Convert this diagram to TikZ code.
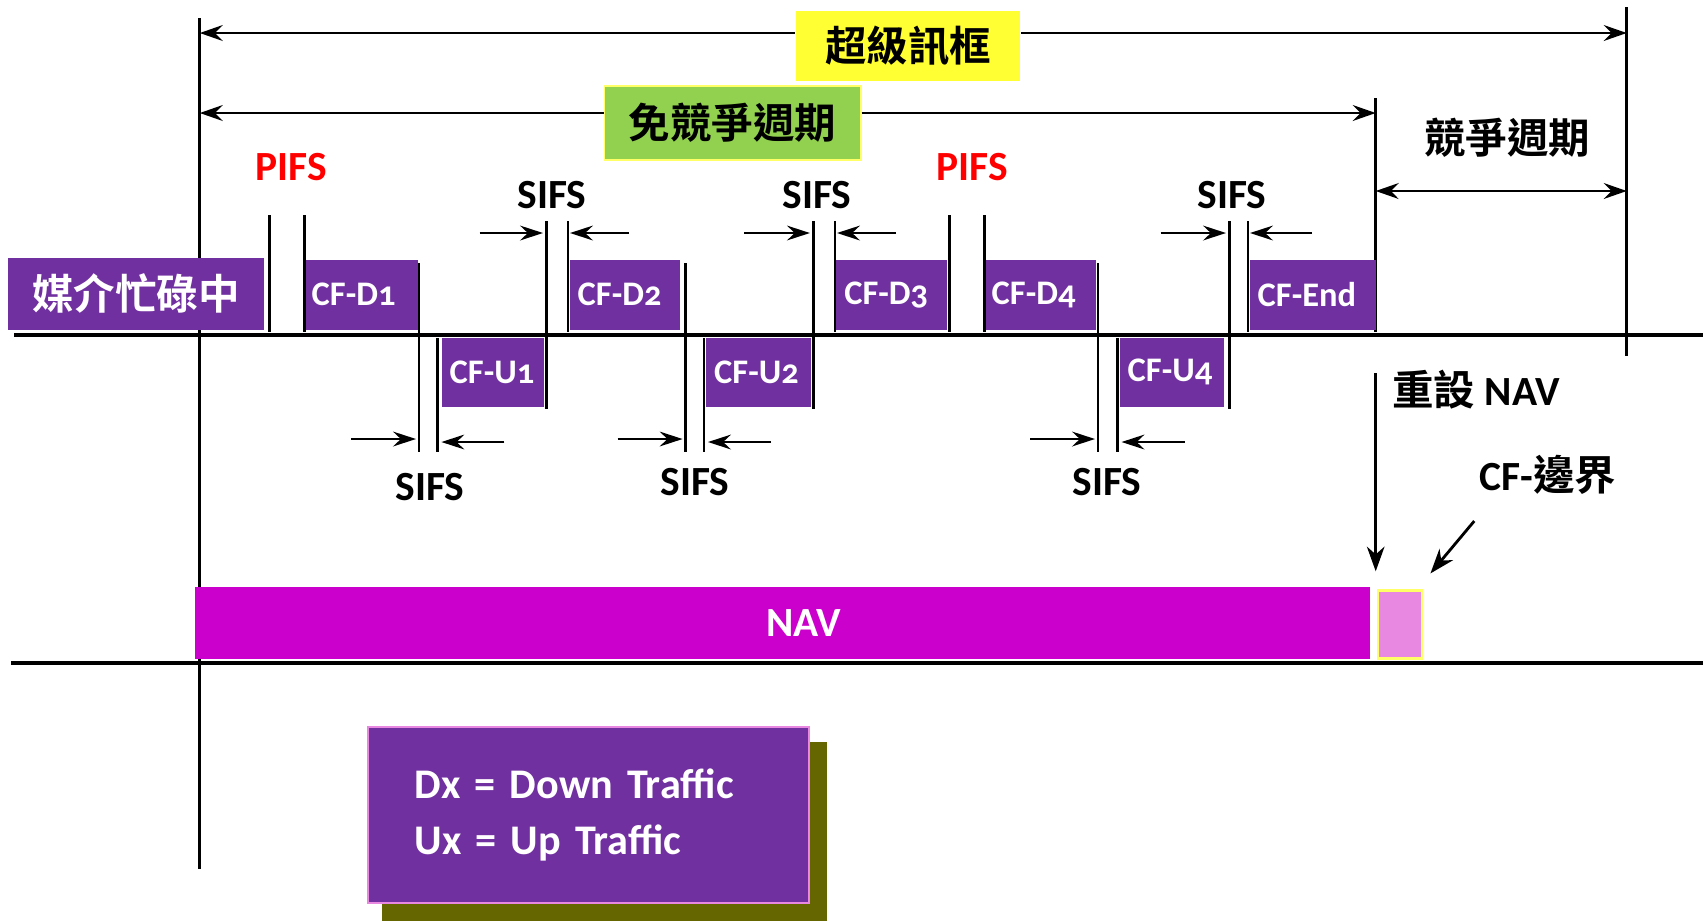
\documentclass[tikz,border=0pt]{standalone}
\usepackage{fontspec}
\setmainfont{Carlito}
\newfontfamily\framefont{Carlito}[Numbers=OldStyle]
\newfontfamily\cjk{Noto Sans CJK TC}[BoldFont={Noto Sans CJK TC Bold}]
\usepackage{tikz}
\usetikzlibrary{arrows.meta, calc, positioning}

\definecolor{framepurple}{HTML}{7030A0}
\definecolor{navmagenta}{HTML}{CC00CC}
\definecolor{boundpink}{HTML}{E888E0}
\definecolor{lemon}{HTML}{FFFF33}
\definecolor{leaf}{HTML}{92D050}
\definecolor{paleyellow}{HTML}{FFFF66}
\definecolor{shadowolive}{HTML}{666600}

\tikzset{
  axis/.style={line width=0.9pt},
  tick/.style={line width=0.75pt},
  gap/.style={line width=0.7pt, -{Stealth[length=6.5pt, width=4.2pt, inset=2.2pt]}},
  span/.style={line width=0.7pt, -{Stealth[length=6.5pt, width=4.5pt, inset=2.2pt]}},
  twospan/.style={line width=0.7pt, {Stealth[length=6.5pt, width=4.5pt, inset=2.2pt]}-{Stealth[length=6.5pt, width=4.5pt, inset=2.2pt]}},
  pointer/.style={line width=0.8pt, -{Stealth[length=7pt, width=5pt, inset=2.2pt]}},
  frame/.style={fill=framepurple, anchor=north west, inner sep=0pt, minimum height=0.70cm},
  frametext/.style={anchor=west, text=white, inner xsep=0.08cm, font=\framefont\bfseries\fontsize{9.8}{11}\selectfont},
  ifs/.style={font=\bfseries\fontsize{11.8}{13}\selectfont},
  heading/.style={font=\cjk\bfseries\fontsize{11.8}{13}\selectfont},
}

\begin{document}
\begin{tikzpicture}[x=0.01cm, y=-0.01cm]
\useasboundingbox (0,0) rectangle (1703,920);

% time lines and period borders
\draw[axis] (14,335) -- (1703,335);
\draw[axis] (11,663) -- (1703,663);
\draw[tick] (199.8,18) -- (199.8,869);
\draw[tick] (1626.7,7) -- (1626.7,356);
\draw[tick] (1375.7,98) -- (1375.7,332);

% superframe
\coordinate (sfL) at (199.8,33);
\coordinate (sfR) at (1626.7,33);
\node[heading, fill=lemon, inner sep=0pt, minimum width=2.24cm, minimum height=0.70cm] (sf) at (908,46) {超級訊框};
\draw[span] (sf.west |- sfL) -- (sfL);
\draw[span] (sf.east |- sfR) -- (sfR);

% contention free period
\coordinate (cfpL) at (199.8,113);
\coordinate (cfpR) at (1375.7,113);
\node[heading, fill=leaf, draw=paleyellow, line width=0.5pt, inner sep=0pt, minimum width=2.56cm, minimum height=0.74cm] (cfp) at (732.6,123) {免競爭週期};
\draw[span] (cfp.west |- cfpL) -- (cfpL);
\draw[span] (cfp.east |- cfpR) -- (cfpR);

% contention period
\coordinate (cpL) at (1375.7,191);
\coordinate (cpR) at (1626.7,191);
\node[heading] (cp) at (1507,138) {競爭週期};
\draw[twospan] (cpL) -- (cpR);

% frames
\node[frame, heading, text=white, minimum width=2.56cm, minimum height=0.72cm] (busy) at (7,257) {媒介忙碌中};
\node[frame, minimum width=1.145cm, label={[frametext]west:CF-D1}] (d1) at (303,259) {};
\node[frame, minimum width=1.02cm, minimum height=0.69cm, label={[frametext]west:CF-U1}] (u1) at (441,337) {};
\node[frame, minimum width=1.10cm, label={[frametext]west:CF-D2}] (d2) at (569,259) {};
\node[frame, minimum width=1.045cm, minimum height=0.69cm, label={[frametext]west:CF-U2}] (u2) at (705.5,337) {};
\node[frame, minimum width=1.104cm, label={[frametext]west:CF-D3}] (d3) at (835.6,259) {};
\node[frame, minimum width=1.12cm, label={[frametext]west:CF-D4}] (d4) at (983,259) {};
\node[frame, minimum width=1.04cm, minimum height=0.69cm, label={[frametext]west:CF-U4}] (u4) at (1119,337) {};
\node[frame, minimum width=1.267cm, label={[frametext]west:CF-End}] (dend) at (1249,259) {};

% PIFS
\draw[tick] (269.4,215) -- (269.4,332);
\draw[tick] (304.6,215) -- (304.6,332);
\draw[tick] (949.7,215) -- (949.7,332);
\draw[tick] (984.5,215) -- (984.5,332);
\node[ifs, text=red] (pifs1) at (291,167) {PIFS};
\node[ifs, text=red] (pifs2) at (972,167) {PIFS};

% SIFS after downlink
\draw[tick] (419,263) -- (419,452);
\draw[tick] (437.4,338) -- (437.4,452);
\draw[tick] (685.6,263) -- (685.6,452);
\draw[tick] (704,338) -- (704,452);
\draw[tick] (1098,263) -- (1098,452);
\draw[tick] (1117.5,338) -- (1117.5,452);
\coordinate (a1) at (419,439);   \coordinate (a2) at (437.4,442);
\coordinate (b1) at (685.6,439); \coordinate (b2) at (704,442);
\coordinate (c1) at (1098,439);  \coordinate (c2) at (1117.5,442);
\draw[gap] ($(a1)+(-68,0)$) -- ($(a1)+(-3,0)$);
\draw[gap] ($(a2)+(67,0)$) -- ($(a2)+(4,0)$);
\draw[gap] ($(b1)+(-68,0)$) -- ($(b1)+(-3,0)$);
\draw[gap] ($(b2)+(67,0)$) -- ($(b2)+(4,0)$);
\draw[gap] ($(c1)+(-68,0)$) -- ($(c1)+(-3,0)$);
\draw[gap] ($(c2)+(67,0)$) -- ($(c2)+(4,0)$);
\node[ifs] (sifsa) at (430,487) {SIFS};
\node[ifs] (sifsb) at (695,482) {SIFS};
\node[ifs] (sifsc) at (1107,482) {SIFS};

% SIFS after uplink
\draw[tick] (546.5,221) -- (546.5,409);
\draw[tick] (568,221) -- (568,332);
\draw[tick] (813.4,221) -- (813.4,409);
\draw[tick] (835,221) -- (835,332);
\draw[tick] (1229.5,221) -- (1229.5,409);
\draw[tick] (1248,221) -- (1248,332);
\coordinate (p1) at (546.5,233);  \coordinate (p2) at (568,233);
\coordinate (q1) at (813.4,233);  \coordinate (q2) at (835,233);
\coordinate (r1) at (1229.5,233); \coordinate (r2) at (1248,233);
\draw[gap] ($(p1)+(-67,0)$) -- ($(p1)+(-3.5,0)$);
\draw[gap] ($(p2)+(61,0)$) -- ($(p2)+(2,0)$);
\draw[gap] ($(q1)+(-69,0)$) -- ($(q1)+(-3.5,0)$);
\draw[gap] ($(q2)+(61,0)$) -- ($(q2)+(2,0)$);
\draw[gap] ($(r1)+(-69,0)$) -- ($(r1)+(-3.5,0)$);
\draw[gap] ($(r2)+(64,0)$) -- ($(r2)+(2,0)$);
\node[ifs] (sifsp) at (552,195) {SIFS};
\node[ifs] (sifsq) at (817,195) {SIFS};
\node[ifs] (sifsr) at (1232,195) {SIFS};

% NAV
\node[fill=navmagenta, inner sep=0pt, minimum width=11.745cm, minimum height=0.72cm, label={[ifs, text=white, xshift=0.21cm]center:NAV}] (nav) at (782.75,623) {};
\node[fill=boundpink, draw=paleyellow, line width=0.6pt, inner sep=0pt, minimum width=0.44cm, minimum height=0.68cm] (cfb) at (1400.35,624.5) {};
\node[ifs, anchor=west] (rst) at (1380,390) {{\cjk 重設} NAV};
\coordinate (rstTop) at (1375.7,373);
\draw[pointer] (rstTop) -- ($(nav.north east -| rstTop)+(0,-15)$);
\node[ifs] (bnd) at (1548,475) {CF-{\cjk 邊界}};
\draw[pointer] ($(bnd.south west)+(7,14)$) -- ($(cfb.north east)+(7,-16)$);

% legend
\fill[shadowolive] (382,741.7) rectangle (827,925);
\node[fill=framepurple, draw=boundpink, line width=0.6pt, text=white, align=left, text width=3.47cm, inner sep=0pt, minimum width=4.413cm, minimum height=1.763cm, font=\bfseries\fontsize{12}{16.1}\selectfont] (legend) at (588.35,814.85) {Dx = Down Traffic\\Ux = Up Traffic};
\end{tikzpicture}
\end{document}
